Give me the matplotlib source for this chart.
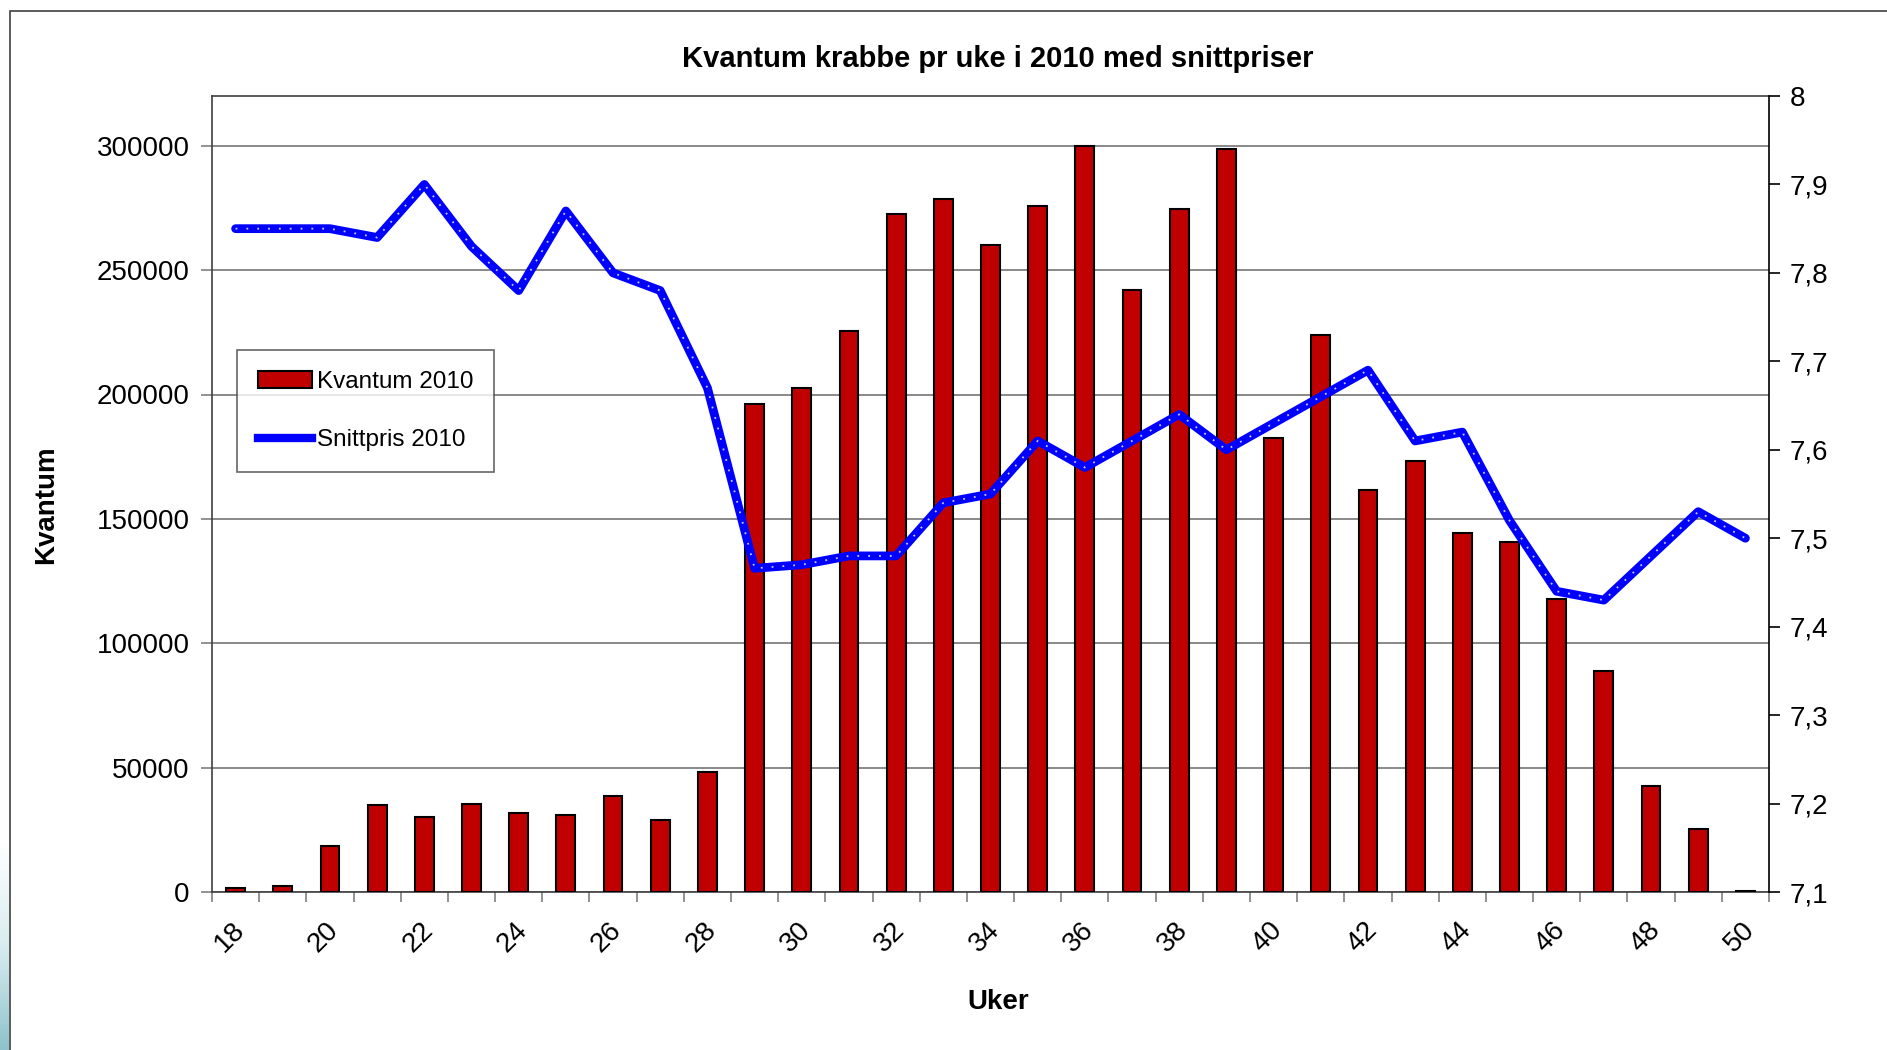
import matplotlib.pyplot as plt
import numpy as np
from matplotlib.patches import Rectangle, Patch
from matplotlib.lines import Line2D
from matplotlib.transforms import ScaledTranslation

plt.rcParams['font.family'] = ['Liberation Sans', 'DejaVu Sans']

weeks = list(range(18, 51))
kvantum = [1500, 2500, 18400, 34800, 30000, 35300, 31900, 31000, 38700, 29000,
           48400, 196000, 202800, 225500, 272400, 278700, 259900, 275800, 300000,
           242000, 274400, 298600, 182400, 224000, 161600, 173200, 144200, 140800,
           117600, 89000, 42600, 25200, 500]
snittpris = [7.85, 7.85, 7.85, 7.84, 7.90, 7.83, 7.78, 7.87, 7.80, 7.78,
             7.67, 7.466, 7.47, 7.48, 7.48, 7.54, 7.55, 7.61, 7.58, 7.61,
             7.64, 7.60, 7.63, 7.66, 7.69, 7.61, 7.62, 7.52, 7.44, 7.43,
             7.48, 7.53, 7.50]

fig = plt.figure(figsize=(18.87, 10.5), dpi=100)

# outer chart frame and the bit of slide background at the left edge
fig.patches.append(Rectangle((10 / 1887, -0.01), 1.0, 1 - 11 / 1050 + 0.01,
                             transform=fig.transFigure, fill=False,
                             edgecolor='#404040', lw=1.2))
bg = fig.add_axes([0, 0, 9 / 1887, 210 / 1050])
grad = np.linspace(0, 1, 100).reshape(-1, 1)
bg.imshow(grad, aspect='auto', cmap=plt.matplotlib.colors.LinearSegmentedColormap.from_list(
    'bg', ['#8fc3cc', '#d9ecef', '#ffffff']), origin='lower')
bg.axis('off')

ax = fig.add_axes([212 / 1887, 158 / 1050, 1557 / 1887, 796 / 1050])
x = np.arange(len(weeks))

ax.bar(x, kvantum, width=0.4, color='#C00000', edgecolor='black', lw=1.5, zorder=3)
ax.set_xlim(-0.5, len(weeks) - 0.5)
ax.set_ylim(0, 320000)
ax.set_yticks(range(0, 300001, 50000))
ax.yaxis.grid(True, color='#808080', lw=1.3, zorder=0)
ax.set_axisbelow(True)
ax.tick_params(axis='y', labelsize=20, length=8, width=1.2, color='#808080',
               direction='out', pad=8)

ax.set_xticks(x[::2])
ax.set_xticklabels([str(w) for w in weeks[::2]], rotation=45, ha='center')
ax.set_xticks(np.arange(-0.5, len(weeks), 1), minor=True)
ax.tick_params(axis='x', which='major', length=0, pad=18, labelsize=20)
ax.tick_params(axis='x', which='minor', length=7, width=1.2, color='#808080', direction='out')
shift = ScaledTranslation(-6 / 100, 0, fig.dpi_scale_trans)
for lbl in ax.get_xticklabels():
    lbl.set_transform(lbl.get_transform() + shift)
for s in ['left', 'top', 'bottom']:
    ax.spines[s].set_color('#404040')
    ax.spines[s].set_linewidth(1.2)
ax.spines['right'].set_visible(False)

ax2 = ax.twinx()
ax2.plot(x, snittpris, color='#0000FF', lw=6.3, solid_capstyle='round', zorder=4)
ax2.plot(x, snittpris, color='#c8c8ff', lw=1.3, linestyle=(0, (1, 5)), zorder=5)
ax2.set_ylim(7.1, 8.0)
ax2.set_yticks(np.arange(7.1, 8.01, 0.1))
ax2.set_yticklabels([f'{v:.1f}'.replace('.', ',') if v < 7.95 else '8'
                     for v in np.arange(7.1, 8.01, 0.1)])
ax2.tick_params(axis='y', labelsize=20, length=8, width=1.2, pad=7)
ax2.spines['right'].set_color('black')
ax2.spines['right'].set_linewidth(1.2)
for s in ['left', 'top', 'bottom']:
    ax2.spines[s].set_visible(False)

fig.text(0.529, 0.944, 'Kvantum krabbe pr uke i 2010 med snittpriser',
         ha='center', va='center', fontsize=21, fontweight='bold')
fig.text(0.0242, 0.519, 'Kvantum', rotation=90, ha='center', va='center',
         fontsize=20, fontweight='bold')
fig.text(0.529, 0.0457, 'Uker', ha='center', va='center', fontsize=20, fontweight='bold')

handles = [Patch(facecolor='#C00000', edgecolor='black', lw=1.5),
           Line2D([], [], color='#0000FF', lw=6)]
leg = fig.legend(handles, ['Kvantum 2010', 'Snittpris 2010'],
                 loc='upper left', bbox_to_anchor=(237 / 1887, 1 - 350 / 1050),
                 fontsize=17.5, frameon=True, fancybox=False, edgecolor='#404040',
                 handlelength=2.25, handletextpad=0.2, labelspacing=1.5,
                 borderpad=0.85, borderaxespad=0)
leg.get_frame().set_linewidth(1.2)

plt.savefig('out.png', dpi=100)
